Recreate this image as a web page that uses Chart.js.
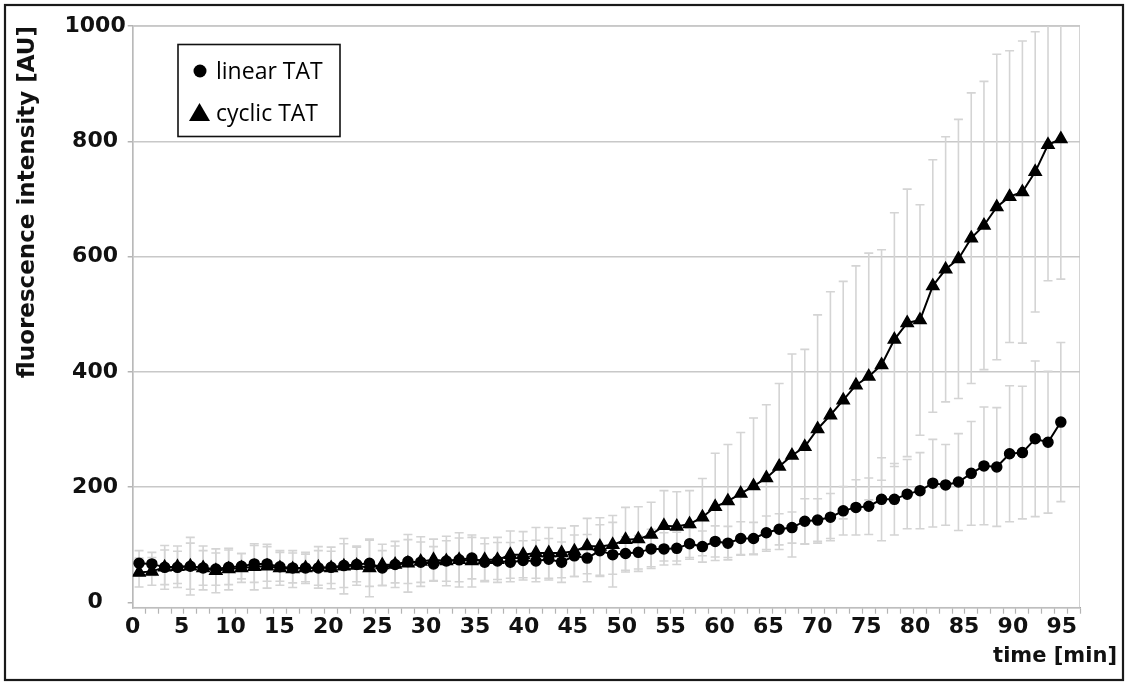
<!DOCTYPE html>
<html>
<head>
<meta charset="utf-8">
<script src="https://cdn.jsdelivr.net/npm/chart.js@4.4.1/dist/chart.umd.min.js"></script>
<style>
  html, body { margin: 0; padding: 0; background: #fff; }
  #wrap { width: 1128px; height: 682px; }
</style>
</head>
<body>
<div id="wrap"><canvas id="myChart" width="1128" height="682"></canvas></div>
<script>

// time points [min]
const times = [
  0.65, 1.96, 3.27, 4.58, 5.89, 7.20, 8.50, 9.81, 11.12, 12.43,
  13.74, 15.05, 16.36, 17.67, 18.98, 20.29, 21.59, 22.90, 24.21, 25.52,
  26.83, 28.14, 29.45, 30.76, 32.07, 33.38, 34.68, 35.99, 37.30, 38.61,
  39.92, 41.23, 42.54, 43.85, 45.16, 46.47, 47.77, 49.08, 50.39, 51.70,
  53.01, 54.32, 55.63, 56.94, 58.25, 59.56, 60.86, 62.17, 63.48, 64.79,
  66.10, 67.41, 68.72, 70.03, 71.34, 72.65, 73.95, 75.26, 76.57, 77.88,
  79.19, 80.50, 81.81, 83.12, 84.43, 85.74, 87.04, 88.35, 89.66, 90.97,
  92.28, 93.59, 94.90
];

const linearTAT = [
  68, 67, 61, 61, 63, 60, 58, 61, 63, 67,
  67, 62, 60, 60, 60, 61, 64, 66, 68, 60,
  66, 71, 70, 67, 72, 74, 77, 70, 72, 70,
  73, 72, 75, 70, 81, 77, 90, 83, 85, 87,
  93, 93, 94, 102, 97, 106, 103, 111, 111, 121,
  127, 130, 141, 143, 148, 159, 165, 167, 179, 179,
  188, 194, 207, 204, 209, 224, 237, 235, 258, 260,
  284, 278, 313
];
const linearErr = [
  22, 20, 30, 28, 40, 30, 28, 30, 22, 32,
  30, 25, 26, 24, 30, 28, 38, 30, 40, 30,
  32, 38, 35, 30, 35, 38, 36, 32, 32, 34,
  34, 36, 36, 35, 36, 41, 45, 56, 29, 29,
  34, 28, 28, 27, 27, 27, 29, 29, 28, 29,
  27, 27, 39, 37, 41, 42, 48, 49, 72, 62,
  60, 66, 76, 70, 84, 90, 102, 103, 118, 115,
  135, 123, 138
];

const cyclicTAT = [
  52, 54, 61, 62, 63, 60, 55, 58, 60, 62,
  63, 60, 58, 60, 61, 60, 63, 64, 60, 65,
  66, 68, 71, 74, 72, 74, 72, 74, 74, 83,
  83, 86, 86, 86, 89, 98, 97, 100, 109, 110,
  118, 133, 132, 136, 148, 166, 176, 189, 202, 216,
  236, 255, 270, 301, 325, 351, 377, 392, 412, 456,
  485, 490, 549, 578, 596, 632, 654, 686, 704, 712,
  747, 794, 804
];
const cyclicErr = [
  25, 24, 38, 36, 50, 38, 38, 36, 25, 40,
  38, 30, 32, 27, 36, 36, 48, 34, 50, 36,
  40, 50, 43, 36, 43, 47, 45, 38, 39, 41,
  40, 44, 44, 43, 44, 48, 50, 51, 56, 56,
  56, 61, 60, 58, 67, 93, 98, 106, 118, 127,
  144, 176, 169, 198, 214, 206, 207, 214, 200, 220,
  232, 200, 219, 230, 242, 252, 250, 265, 253, 262,
  243, 236, 243
];

const xLabels = [0, 5, 10, 15, 20, 25, 30, 35, 40, 45, 50, 55, 60, 65, 70, 75, 80, 85, 90, 95];
const yTicks = [0, 200, 400, 600, 800, 1000];

const X_MAX = 96.86;
const tickFont = { family: "'DejaVu Sans', sans-serif", size: 22, weight: "bold" };

// small tick marks sit between the time points (category boundaries)
function buildXTicks() {
  const ticks = xLabels.map(v => ({ value: v, lbl: true }));
  for (let i = 1; i < times.length; i++) {
    ticks.push({ value: (times[i - 1] + times[i]) / 2, lbl: false });
  }
  const step = times[1] - times[0];
  ticks.push({ value: times[times.length - 1] + step / 2, lbl: false });
  ticks.push({ value: X_MAX, lbl: false });
  return ticks.sort((a, b) => a.value - b.value);
}

const errorBars = {
  id: "errorBars",
  beforeDatasetsDraw(chart) {
    const { ctx, chartArea, scales: { x, y } } = chart;
    ctx.save();
    ctx.beginPath();
    ctx.rect(chartArea.left, chartArea.top, chartArea.right - chartArea.left, chartArea.bottom - chartArea.top);
    ctx.clip();

    // plot frame
    ctx.strokeStyle = "#c6c6c6";
    ctx.lineWidth = 1.5;
    ctx.strokeRect(chartArea.left, chartArea.top, chartArea.right - chartArea.left, chartArea.bottom - chartArea.top);

    ctx.strokeStyle = "#d4d4d4";
    ctx.lineWidth = 1.6;
    [[linearTAT, linearErr], [cyclicTAT, cyclicErr]].forEach(([vals, errs]) => {
      vals.forEach((v, i) => {
        const px = x.getPixelForValue(times[i]);
        const top = y.getPixelForValue(v + errs[i]);
        const bot = y.getPixelForValue(v - errs[i]);
        ctx.beginPath();
        ctx.moveTo(px, top); ctx.lineTo(px, bot);
        ctx.moveTo(px - 4.5, top); ctx.lineTo(px + 4.5, top);
        ctx.moveTo(px - 4.5, bot); ctx.lineTo(px + 4.5, bot);
        ctx.stroke();
      });
    });
    ctx.restore();
  }
};

const decorations = {
  id: "decorations",
  afterDraw(chart) {
    const ctx = chart.ctx;
    ctx.save();

    // outer frame
    ctx.strokeStyle = "#1a1a1a";
    ctx.lineWidth = 2.2;
    ctx.strokeRect(5, 5, 1118, 675);

    // legend
    ctx.strokeStyle = "#111";
    ctx.lineWidth = 1.6;
    ctx.fillStyle = "#fff";
    ctx.fillRect(178, 44.5, 162, 92);
    ctx.strokeRect(178, 44.5, 162, 92);
    ctx.fillStyle = "#000";
    ctx.beginPath();
    ctx.arc(200, 71, 6.5, 0, Math.PI * 2);
    ctx.fill();
    ctx.beginPath();
    ctx.moveTo(199.5, 103);
    ctx.lineTo(210, 121);
    ctx.lineTo(189, 121);
    ctx.closePath();
    ctx.fill();
    ctx.font = "23px 'Open Sans', sans-serif";
    ctx.textAlign = "left";
    ctx.textBaseline = "alphabetic";
    ctx.fillText(chart.data.datasets[0].label, 216, 79);
    ctx.fillText(chart.data.datasets[1].label, 216, 121);

    // x axis title
    ctx.font = "bold 21px 'DejaVu Sans', sans-serif";
    ctx.textAlign = "right";
    ctx.textBaseline = "middle";
    ctx.fillStyle = "#111";
    ctx.fillText("time [min]", 1117, 657);
    ctx.restore();
  }
};

new Chart(document.getElementById("myChart"), {
  type: "line",
  data: {
    datasets: [
      {
        label: "linear TAT",
        data: times.map((t, i) => ({ x: t, y: linearTAT[i] })),
        borderColor: "#000", backgroundColor: "#000", borderWidth: 2,
        pointStyle: "circle", pointRadius: 5, pointBorderWidth: 1.5,
        tension: 0
      },
      {
        label: "cyclic TAT",
        data: times.map((t, i) => ({ x: t, y: cyclicTAT[i] })),
        borderColor: "#000", backgroundColor: "#000", borderWidth: 2,
        pointStyle: "triangle", pointRadius: 7, pointBorderWidth: 1.5,
        tension: 0
      }
    ]
  },
  options: {
    responsive: false,
    animation: false,
    devicePixelRatio: 1,
    layout: { padding: { top: 26, right: 48, bottom: 0, left: 0 } },
    plugins: {
      legend: { display: false },
      tooltip: { enabled: false }
    },
    scales: {
      x: {
        type: "linear",
        min: 0,
        max: X_MAX,
        afterBuildTicks: s => { s.ticks = buildXTicks(); },
        afterFit: s => { s.height = 74.3; },
        ticks: {
          autoSkip: false, maxRotation: 0, padding: 0,
          font: tickFont, color: "#111",
          callback: (v, i, ticks) => ticks[i].lbl ? String(v) : ""
        },
        grid: {
          drawOnChartArea: false,
          tickLength: 6,
          tickWidth: 1.2,
          tickColor: c => (c.tick && c.tick.lbl) ? "rgba(0,0,0,0)" : "#b4b4b4"
        },
        border: { color: "#a8a8a8", width: 1.5 }
      },
      y: {
        min: -9,
        max: 1000,
        afterBuildTicks: s => { s.ticks = yTicks.map(v => ({ value: v })); },
        afterFit: s => { s.width = 132.7; },
        ticks: {
          crossAlign: "center", padding: 2, font: tickFont, color: "#111",
          callback: v => String(v)
        },
        grid: {
          color: c => (c.tick && c.tick.value === 0) ? "rgba(0,0,0,0)" : "#c8c8c8",
          lineWidth: 1.5,
          tickLength: 5,
          tickColor: "#b4b4b4"
        },
        border: { color: "#b4b4b4", width: 1.5 },
        title: {
          display: true,
          text: "fluorescence intensity [AU]",
          align: "end",
          color: "#111",
          font: { family: "'DejaVu Sans', sans-serif", size: 23, weight: "bold" },
          padding: { top: 14, bottom: 0 }
        }
      }
    }
  },
  plugins: [errorBars, decorations]
});
</script>
</body>
</html>
